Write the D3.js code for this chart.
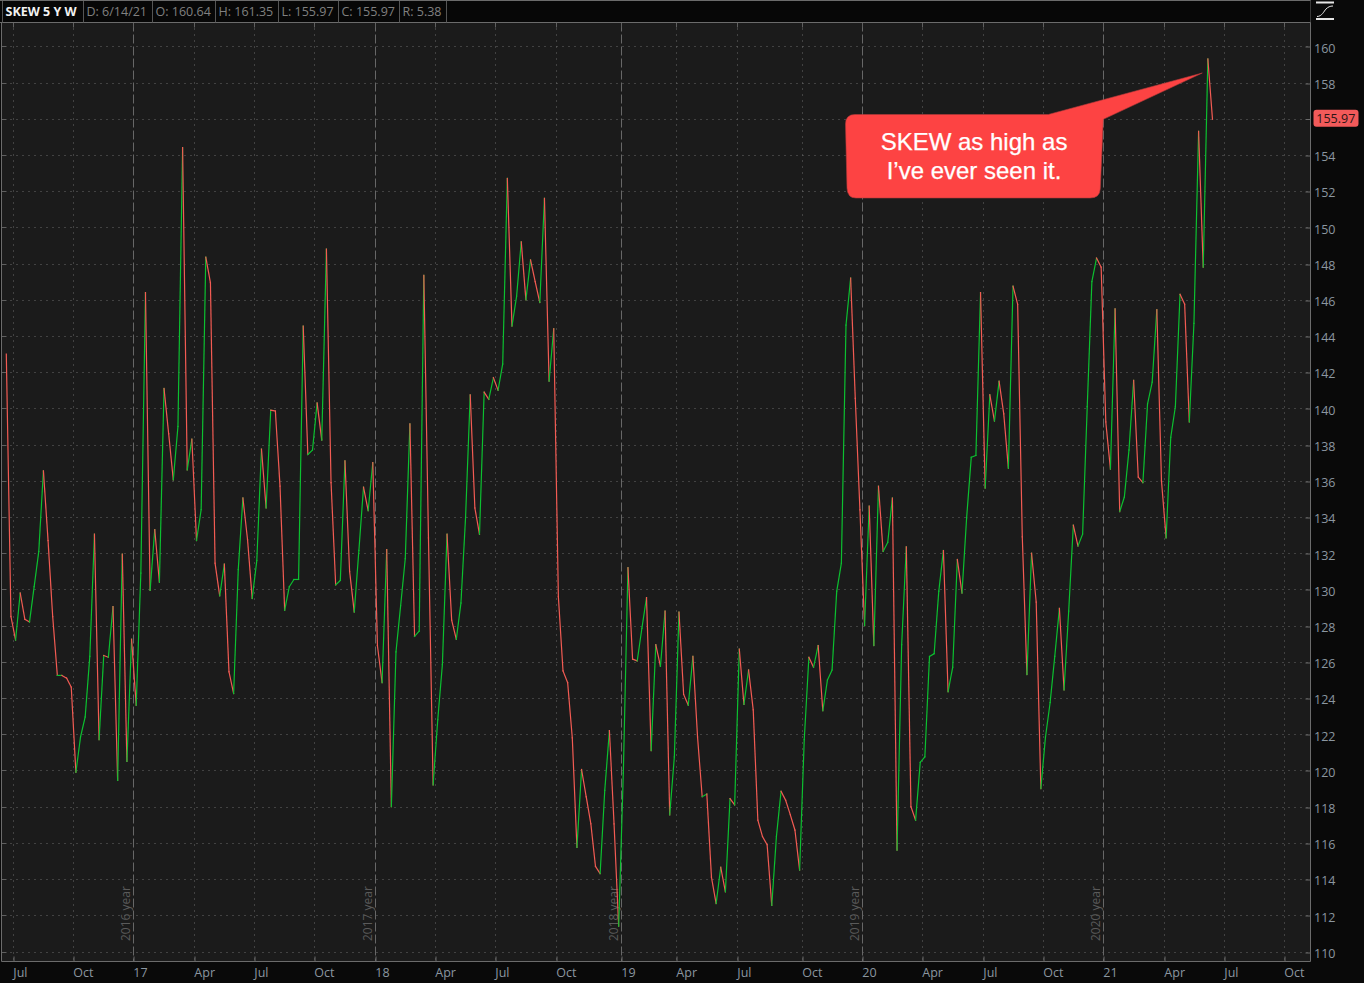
<!DOCTYPE html>
<html>
<head>
<meta charset="utf-8">
<script src="https://cdn.jsdelivr.net/npm/d3@7"></script>
<style>
html,body{margin:0;padding:0;background:#090909;overflow:hidden}
svg{display:block;font-family:"Open Sans",sans-serif}
</style>
</head>
<body>
<svg id="chart" width="1364" height="983"></svg>
<script>
// Weekly closes of SKEW, 2016-06-20 to 2021-06-14
const closeA = [143,128.5,127.2,129.8,128.35,128.2,130.15,132.1,136.55,132.7,128.5,125.25,125.25,125.1,124.6,119.9,121.85,122.95,126.3,133.05,121.7,126.35,126.25,129.05,119.45,131.95,120.5,127.25,123.6,130.9,146.4,129.95,133.3,130.4,141.1,138.6,136.05,139,154.4,136.6,138.3,132.7,134.4,148.35,146.95,131.45,129.65,131.4,125.45,124.25,131.1,135.05];
const closeB = [132.75,129.5,131.6,137.75,134.5,139.9,139.85,135.7,128.85,130.15,130.55,130.55,144.55,137.45,137.7,140.3,138.25,148.8,135.9,130.25,130.5,137.1,131,128.75,132.15,135.65,134.35,137,126.9,124.85,132.2,118,126.55,129.1,131.7,139.15,127.4,127.7,147.35,132.85,119.2,122.8,125.85,133.05,128.3,127.25,129.25,134,140.75,134.5,133.05,140.9];
const closeC = [140.5,141.7,141,142.45,152.7,144.55,146.2,149.2,146,148.2,147,145.85,151.6,141.5,144.4,129.6,125.5,124.85,121.8,115.75,120.05,118.55,117.05,114.7,114.3,118.9,122.2,117.05,111.4,119.85,131.2,126.15,126.05,127.85,129.55,121.1,126.95,125.75,128.8,117.55,120.75,128.75,124.2,123.6,126.3,121.85,118.55,118.7,114.1,112.65,114.65,113.3];
const closeD = [118.45,118.1,126.7,123.65,125.55,123.35,117.25,116.35,115.9,112.55,116.35,118.85,118.35,117.55,116.7,114.5,121.7,126.25,125.7,126.9,123.3,125,125.55,129.9,131.45,144.6,147.2,140.55,134.4,128,134.6,126.9,135.7,132.1,132.6,135.05,115.6,126.95,132.35,118,117.25,120.45,120.75,126.3,126.45,129.9,132.15,124.35,125.7,131.65,129.8,133.95];
const closeE = [137.3,137.4,146.4,135.6,140.75,139.3,141.5,139.7,136.7,146.75,145.75,132.9,125.3,132,129.3,119,121.85,123.75,126.3,128.95,124.45,128.8,133.55,132.4,133.05,140.1,147,148.3,147.8,139.25,136.65,145.5,134.3,135.1,137.7,141.55,136.2,135.9,140.25,141.45,145.45,136,132.85,138.4,140.1,146.3,145.75,139.25,144.7,155.3,147.8,159.3,155.97];
const closes = [...closeA, ...closeB, ...closeC, ...closeD, ...closeE];

const monthLabels = ["Jul","Oct","17","Apr","Jul","Oct","18","Apr","Jul","Oct","19","Apr","Jul","Oct","20","Apr","Jul","Oct","21","Apr","Jul","Oct"];
const monthWeeks  = [1.51,14.44,27.38,40.53,53.46,66.39,79.54,92.47,105.41,118.56,132.57,144.43,157.58,171.59,184.52,197.45,210.6,223.54,236.47,249.62,262.55,275.49];
const yearLabels  = ["2016 year","2017 year","2018 year","2019 year","2020 year"];
const yearWeeks   = [27.38,79.54,132.57,184.52,236.47];
const priceTicks  = d3.range(110,162,2);
const lastPrice   = 155.97;
const headerCells = ["SKEW 5 Y W","D: 6/14/21","O: 160.64","H: 161.35","L: 155.97","C: 155.97","R: 5.38"];
const headerEdges = [2,83,152,215,278,338,399,446];
const calloutLines = ["SKEW as high as","I\u2019ve ever seen it."];

const svg = d3.select("#chart");
const plot = {l:1.5, r:1310.5, t:22.5, b:961.5};
const x = d3.scaleLinear([0,260],[6.3,1212.5]);
const y = d3.scaleLinear([110,160],[951.5,46.3]);

const GREY="#5f5f5f", LABEL="#8b96a0", UP="#0cc030", DOWN="#f25b53";

svg.append("rect").attr("width",1364).attr("height",983).attr("fill","#090909");
svg.append("rect").attr("x",plot.l).attr("y",plot.t).attr("width",plot.r-plot.l).attr("height",plot.b-plot.t).attr("fill","#1b1b1b");

// dotted grid
const isYear = w => yearWeeks.includes(w);
const grid = svg.append("g");
grid.selectAll("line.h").data(priceTicks).join("line").attr("class","h")
  .attr("x1",plot.l+3).attr("x2",plot.r).attr("y1",d=>Math.round(y(d))+.5).attr("y2",d=>Math.round(y(d))+.5)
  .attr("stroke","#6a6a6a").attr("stroke-dasharray","1,5");
grid.selectAll("line.v").data(monthWeeks.filter(w=>!isYear(w))).join("line").attr("class","v")
  .attr("x1",d=>Math.round(x(d))+.5).attr("x2",d=>Math.round(x(d))+.5).attr("y1",plot.t).attr("y2",plot.b)
  .attr("stroke","#6a6a6a").attr("stroke-dasharray","1,5");
grid.selectAll("line.y").data(yearWeeks).join("line").attr("class","y")
  .attr("x1",d=>Math.round(x(d))+.5).attr("x2",d=>Math.round(x(d))+.5).attr("y1",plot.t).attr("y2",plot.b)
  .attr("stroke","#676767").attr("stroke-dasharray","9,3");

// short solid ticks on the frame
grid.selectAll("line.s1").data(priceTicks).join("line").attr("class","s1")
  .attr("x1",plot.l).attr("x2",plot.l+5).attr("y1",d=>Math.round(y(d))+.5).attr("y2",d=>Math.round(y(d))+.5).attr("stroke",GREY);
grid.selectAll("line.s2").data(monthWeeks).join("line").attr("class","s2")
  .attr("x1",d=>Math.round(x(d))+.5).attr("x2",d=>Math.round(x(d))+.5).attr("y1",plot.t).attr("y2",plot.t+5).attr("stroke",GREY);

// year captions
svg.append("g").selectAll("text").data(yearWeeks).join("text")
  .attr("transform",d=>`translate(${x(d)-3},941) rotate(-90)`)
  .attr("font-size",12).attr("fill","#5a5a5a")
  .text((d,i)=>yearLabels[i]);

// price line, one segment per week, coloured by direction
const segs = d3.pairs(closes.map((c,i)=>({i,c})));
svg.append("g").selectAll("line").data(segs).join("line")
  .attr("x1",d=>x(d[0].i)).attr("y1",d=>y(d[0].c))
  .attr("x2",d=>x(d[1].i)).attr("y2",d=>y(d[1].c))
  .attr("stroke",d=>d[1].c>=d[0].c?UP:DOWN)
  .attr("stroke-width",1.2).attr("stroke-linecap","square");

// frame
const frame = "#6b6b6b";
svg.append("path").attr("fill","none").attr("stroke",frame)
  .attr("d",`M${plot.l},${plot.t}V${plot.b}H${plot.r}V0`);

// axes
const xAxis = d3.axisBottom(x).tickValues(monthWeeks).tickSize(-5).tickPadding(0)
  .tickFormat((d,i)=>monthLabels[i]);
const gx = svg.append("g").attr("transform",`translate(0,${plot.b})`).call(xAxis);
gx.select(".domain").remove();
gx.selectAll("line").attr("stroke",frame).attr("transform",d=>`translate(${Math.round(x(d))+.5-x(d)},0)`);
gx.selectAll("text").attr("text-anchor","start").attr("font-size",12.5).attr("font-family",'"Open Sans",sans-serif')
  .attr("fill",LABEL).attr("x",-.5).attr("y",0).attr("dy",15);

const yAxis = d3.axisRight(y).tickValues(priceTicks.filter(d=>d!==156)).tickSize(-5).tickPadding(0).tickFormat(d3.format("d"));
const gy = svg.append("g").attr("transform",`translate(${plot.r},0)`).call(yAxis);
gy.select(".domain").remove();
gy.selectAll("line").attr("stroke",frame).attr("transform",d=>`translate(0,${Math.round(y(d))+.5-y(d)})`);
gy.selectAll("text").attr("font-size",12.5).attr("font-family",'"Open Sans",sans-serif')
  .attr("fill",LABEL).attr("x",3.5).attr("dy",5.8).attr("text-anchor","start");
gy.append("line").attr("x1",-5).attr("x2",0).attr("y1",Math.round(y(156))+.5).attr("y2",Math.round(y(156))+.5).attr("stroke",frame);

// last-price badge
svg.append("rect").attr("x",1313.5).attr("y",y(lastPrice)-9.5).attr("width",45).attr("height",17).attr("rx",3)
  .attr("fill","#f25a5a");
svg.append("text").attr("x",1335.8).attr("y",y(lastPrice)-1).attr("dy","0.36em").attr("text-anchor","middle")
  .attr("font-size",12.5).attr("fill","#2a1515").text(lastPrice.toFixed(2));

// header bar
svg.append("rect").attr("x",0).attr("y",0).attr("width",plot.r).attr("height",plot.t).attr("fill","#070707");
svg.append("path").attr("fill","none").attr("stroke",frame).attr("d",`M0,.5H${plot.r}M0,${plot.t}H${plot.r}`);
svg.append("g").selectAll("line").data(headerEdges).join("line")
  .attr("x1",d=>d+.5).attr("x2",d=>d+.5).attr("y1",1).attr("y2",plot.t).attr("stroke","#555");
svg.append("g").selectAll("text").data(headerCells).join("text")
  .attr("x",(d,i)=>headerEdges[i]+3.5).attr("y",16)
  .attr("font-size",12.5).attr("font-weight",(d,i)=>i===0?700:400)
  .attr("fill",(d,i)=>i===0?"#f2f2f2":"#808080").text(d=>d);

// top-right icon
const icon = svg.append("g").attr("fill","none").attr("stroke","#e6e6e6");
icon.append("path").attr("stroke-width",2).attr("d","M1316,2.5H1334M1316,19H1334");
icon.append("path").attr("stroke-width",1).attr("d","M1317,16.5C1322,16.5 1324,11 1326,9C1328,7 1330,6 1333,6");

// callout
svg.append("path")
  .attr("d","M855,114.5H1048.3L1202.3,73L1103.3,119.3L1100.3,188.5Q1100,198 1090,198H856Q847.3,198 847,188L845.5,124Q845.5,114.5 855,114.5Z")
  .attr("fill","#fd4343").attr("stroke","#b33a3a").attr("stroke-width",.6);
svg.append("g").selectAll("text").data(calloutLines).join("text")
  .attr("x",974).attr("y",(d,i)=>150+i*29)
  .attr("text-anchor","middle").attr("font-family",'"Liberation Sans",Arial,sans-serif')
  .attr("font-size",24).attr("fill","#fff").attr("stroke","#fff").attr("stroke-width",.25).text(d=>d);
</script>
</body>
</html>
